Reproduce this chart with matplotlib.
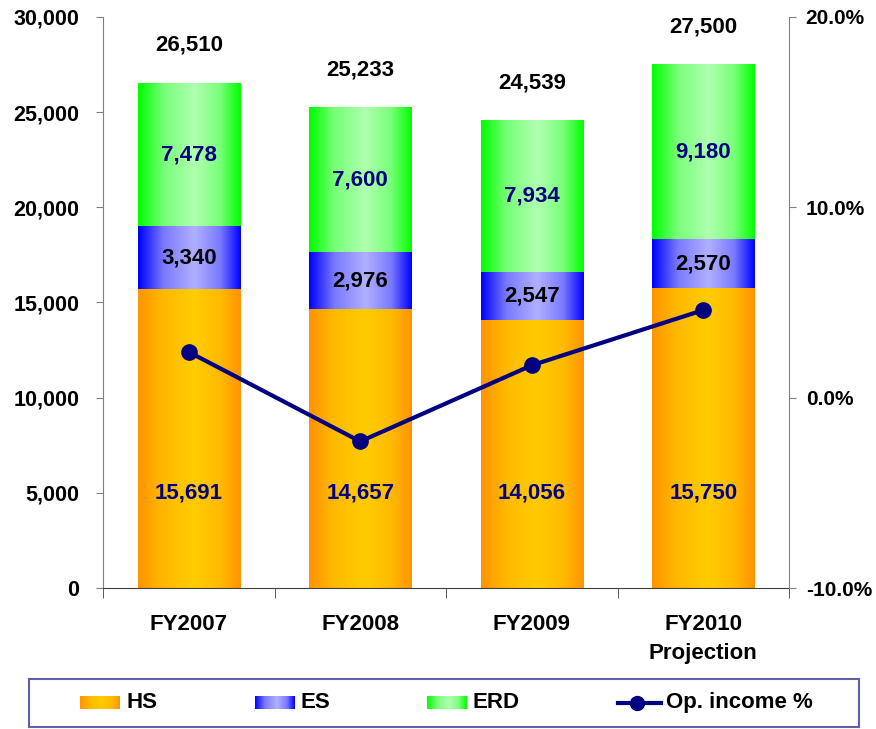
import matplotlib.pyplot as plt
import numpy as np
from matplotlib.colors import LinearSegmentedColormap

plt.rcParams['font.family'] = ['Liberation Sans', 'DejaVu Sans']
plt.rcParams['font.weight'] = 'bold'

# sales by segment and operating income ratio
years = ['FY2007', 'FY2008', 'FY2009', 'FY2010\nProjection']
hs = [15691, 14657, 14056, 15750]
es = [3340, 2976, 2547, 2570]
erd = [7478, 7600, 7934, 9180]
totals = [26510, 25233, 24539, 27500]
op_income = [2.4, -2.3, 1.7, 4.6]

navy = '#000080'

def grad_cmap(edge, mid, soft):
    return LinearSegmentedColormap.from_list(
        'g', [(0, edge), (0.25, soft), (0.55, mid), (0.8, soft), (1, edge)])

cmaps = {
    'HS': grad_cmap('#FF9400', '#FFCC00', '#FFBA00'),
    'ES': grad_cmap('#0000FF', '#B0B0FF', '#7A7AFF'),
    'ERD': grad_cmap('#00FF00', '#B0FFB0', '#78FF78'),
}
grad = np.linspace(0, 1, 256).reshape(1, -1)

fig = plt.figure(figsize=(8.76, 7.29), dpi=100)
ax = fig.add_axes([0.1176, 0.1934, 0.7831, 0.7833])
x = np.arange(len(years))
w = 0.595

def fill_gradient(bars, cmap):
    for b in bars:
        x0, y0 = b.get_x(), b.get_y()
        ax.imshow(grad, cmap=cmap, aspect='auto', zorder=2,
                  extent=(x0, x0 + b.get_width(), y0, y0 + b.get_height()))
        b.set_visible(False)

b1 = ax.bar(x, hs, w)
b2 = ax.bar(x, es, w, bottom=hs)
b3 = ax.bar(x, erd, w, bottom=np.add(hs, es))
fill_gradient(b1, cmaps['HS'])
fill_gradient(b2, cmaps['ES'])
fill_gradient(b3, cmaps['ERD'])

# segment labels
fs = 16
for i in range(len(x)):
    ax.text(x[i], 5000, f'{hs[i]:,}', ha='center', va='center', fontsize=fs, color=navy, zorder=5)
    ax.text(x[i], hs[i] + es[i] / 2, f'{es[i]:,}', ha='center', va='center', fontsize=fs, color='black', zorder=5)
    ax.text(x[i], hs[i] + es[i] + erd[i] / 2, f'{erd[i]:,}', ha='center', va='center', fontsize=fs, color=navy, zorder=5)
    ax.text(x[i], totals[i] + 2000, f'{totals[i]:,}', ha='center', va='center', fontsize=fs, color='black', zorder=5)

ax.set_xlim(-0.5, 3.5)
ax.set_ylim(0, 30000)
ax.set_yticks(range(0, 30001, 5000))
ax.set_yticklabels([f'{v:,}' for v in range(0, 30001, 5000)], fontsize=15.5)
ax.set_xticks(x)
ax.set_xticklabels(years, fontsize=16, linespacing=1.45)
ax.tick_params(axis='x', length=0, pad=19)
ax.set_xticks(np.arange(-0.5, 4, 1), minor=True)
ax.tick_params(axis='x', which='minor', length=7, color='#404040')
ax.tick_params(axis='y', length=5, color='#808080', pad=12)
ax.spines['top'].set_visible(False)
ax.spines['right'].set_visible(False)
ax.spines['left'].set_color('#808080')
ax.spines['bottom'].set_color('#404040')

# operating income on the right axis
ax2 = ax.twinx()
ax2.plot(x, op_income, color=navy, lw=3, marker='o', ms=11, zorder=6)
ax2.set_ylim(-10, 20)
ax2.set_yticks([-10, 0, 10, 20])
ax2.set_yticklabels([f'{v:.1f}%' for v in [-10, 0, 10, 20]], fontsize=15)
ax2.tick_params(axis='y', length=5, color='#808080', pad=7)
for s in ['top', 'left', 'bottom']:
    ax2.spines[s].set_visible(False)
ax2.spines['right'].set_color('#808080')

# legend box
lg = fig.add_axes([29 / 876, 2 / 729, 830 / 876, 48 / 729])
lg.set_xlim(0, 830)
lg.set_ylim(0, 48)
lg.set_xticks([])
lg.set_yticks([])
for s in lg.spines.values():
    s.set_color('#6060A8')
    s.set_linewidth(1.5)
items = [('HS', 51), ('ES', 226), ('ERD', 398)]
for name, px in items:
    lg.imshow(grad, cmap=cmaps[name], aspect='auto', extent=(px, px + 40, 18, 31))
    lg.text(px + 46, 24.5, name, va='center', ha='left', fontsize=16)
lg.plot([589, 632], [24.5, 24.5], color=navy, lw=3)
lg.plot([608], [24.5], color=navy, marker='o', ms=10)
lg.text(637, 24.5, 'Op. income %', va='center', ha='left', fontsize=16)

fig.savefig('out.png', dpi=100)
